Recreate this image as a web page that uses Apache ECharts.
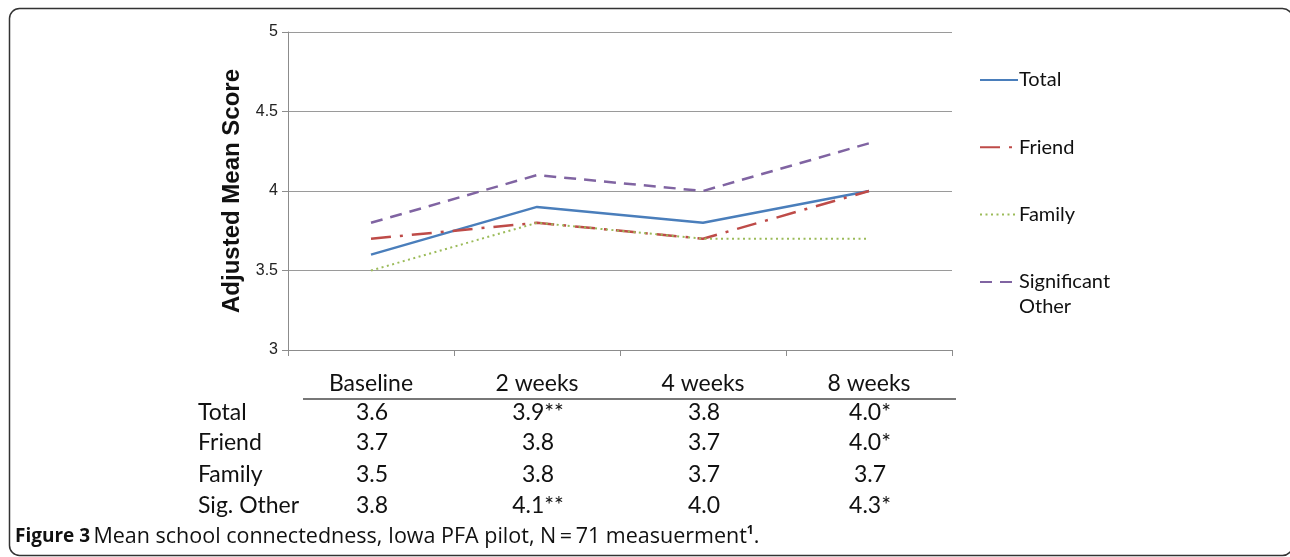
<!DOCTYPE html>
<html><head><meta charset="utf-8">
<script src="https://cdn.jsdelivr.net/npm/echarts@6/dist/echarts.min.js"></script>
<style>html,body{margin:0;padding:0;background:#fff}#c{width:1290px;height:557px}</style>
</head><body><div id="c"></div>
<script>
var categories = ['Baseline', '2 weeks', '4 weeks', '8 weeks'];
var total = [3.6, 3.9, 3.8, 4.0];
var friend = [3.7, 3.8, 3.7, 4.0];
var family = [3.5, 3.8, 3.7, 3.7];
var sigOther = [3.8, 4.1, 4.0, 4.3];
var totalMarks = ['', '**', '', '*'];
var friendMarks = ['', '', '', '*'];
var familyMarks = ['', '', '', ''];
var sigOtherMarks = ['', '**', '', '*'];
var rowLabels = ['Total', 'Friend', 'Family', 'Sig. Other'];
var yTicks = [3, 3.5, 4, 4.5, 5];

var chart = echarts.init(document.getElementById('c'));
var tableFont = 'Lato, "Open Sans", sans-serif';
var option = {
  animation: false,
  grid: {left: 288, right: 338, top: 32, bottom: 207},
  legend: {
    orient: 'vertical', left: 974, top: 65, itemGap: 47.3,
    itemWidth: 38, itemHeight: 14,
    itemStyle: {opacity: 0, borderWidth: 0},
    textStyle: {fontFamily: tableFont, fontSize: 20, color: '#111', padding: [0,0,0,-4]},
    formatter: function (n) { return n === 'Significant Other' ? 'Significant' : n; },
    data: ['Total', 'Friend', 'Family', 'Significant Other']
  },
  xAxis: {
    type: 'category', data: categories, boundaryGap: true,
    axisLine: {lineStyle: {color: '#8c8c8c', width: 1}},
    axisTick: {show: true, length: 6, lineStyle: {color: '#8c8c8c'}},
    axisLabel: {margin: 22, fontFamily: tableFont, fontSize: 23, color: '#111'},
    splitLine: {show: false}
  },
  yAxis: {
    type: 'value', min: 3, max: 5, interval: 0.5,
    name: 'Adjusted Mean Score', nameLocation: 'middle', nameGap: 42,
    nameTextStyle: {fontFamily: 'Liberation Sans, Arial, sans-serif', fontSize: 24, fontWeight: 'bold', color: '#111'},
    axisLine: {show: true, lineStyle: {color: '#8c8c8c', width: 1}},
    axisTick: {show: true, length: 6, lineStyle: {color: '#8c8c8c'}},
    axisLabel: {margin: 10, fontFamily: 'Liberation Sans, Arial, sans-serif', fontSize: 16, color: '#222',
      formatter: function (v) { return String(v); }},
    splitLine: {show: true, lineStyle: {color: '#9a9a9a', width: 1}}
  },
  series: [
    {name: 'Total', type: 'line', data: total, symbol: 'none', color: '#4a7ebb',
     lineStyle: {color: '#4a7ebb', width: 2.5, type: 'solid'}},
    {name: 'Friend', type: 'line', data: friend, symbol: 'none', color: '#be4b48',
     lineStyle: {color: '#be4b48', width: 2.5, type: [20, 9, 3, 9]}},
    {name: 'Family', type: 'line', data: family, symbol: 'none', color: '#9bbb59',
     lineStyle: {color: '#9bbb59', width: 2, type: [2, 3.5]}},
    {name: 'Significant Other', type: 'line', data: sigOther, symbol: 'none', color: '#8064a2',
     lineStyle: {color: '#8064a2', width: 2.5, type: [12, 8]}}
  ]
};
chart.setOption(option);

var rows = [[total, totalMarks], [friend, friendMarks], [family, familyMarks], [sigOther, sigOtherMarks]];
var rowY = [413, 443, 475, 506];
var graphics = [];
graphics.push({type: 'rect', shape: {x: 9.5, y: 8.5, width: 1283, height: 547, r: 10},
  style: {fill: 'none', stroke: '#333', lineWidth: 1.5}, silent: true});
graphics.push({type: 'line', shape: {x1: 303, y1: 399, x2: 956, y2: 399},
  style: {stroke: '#777', lineWidth: 2}, silent: true});
for (var r = 0; r < rows.length; r++) {
  graphics.push({type: 'text', x: 198, y: rowY[r],
    style: {text: rowLabels[r], fontFamily: tableFont, fontSize: 23, fill: '#111', textVerticalAlign: 'middle', textAlign: 'left'}});
  for (var c = 0; c < categories.length; c++) {
    var cx = chart.convertToPixel({xAxisIndex: 0}, categories[c]);
    graphics.push({type: 'text', x: cx + 1, y: rowY[r],
      style: {text: rows[r][0][c].toFixed(1) + rows[r][1][c], fontFamily: tableFont, fontSize: 23, fill: '#111',
        textVerticalAlign: 'middle', textAlign: 'center'}});
  }
}
graphics.push({type: 'text', x: 1019, y: 307,
  style: {text: 'Other', fontFamily: tableFont, fontSize: 20, fill: '#111', textVerticalAlign: 'middle', textAlign: 'left'}});
graphics.push({type: 'text', x: 15, y: 537,
  style: {
    text: '{b|Figure 3} {n|Mean school connectedness, Iowa PFA pilot, N\u2009=\u200971 measuerment}{s|1}{n|.}',
    textVerticalAlign: 'middle',
    rich: {
      b: {fontFamily: '"Open Sans", sans-serif', fontSize: 19, fontWeight: 'bold', fill: '#111'},
      n: {fontFamily: '"Open Sans", sans-serif', fontSize: 21.5, fill: '#111'},
      s: {fontFamily: '"Open Sans", sans-serif', fontSize: 12, fontWeight: 'bold', fill: '#111', verticalAlign: 'top', padding: [0,0,13,0]}
    }
  }});
chart.setOption({graphic: graphics});
</script></body></html>
